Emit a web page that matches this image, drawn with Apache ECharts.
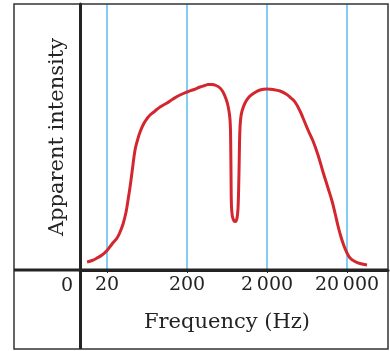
<!DOCTYPE html>
<html>
<head>
<meta charset="utf-8">
<script src="https://cdn.jsdelivr.net/npm/echarts@6/dist/echarts.min.js"></script>
<style>
html,body{margin:0;padding:0;background:#fff;}
#chart{width:390px;height:351px;}
</style>
</head>
<body>
<div id="chart"></div>
<script>
// Frequency (Hz) of each sampled point on the curve
const frequencies = [11.25, 12.99, 15.0, 17.32, 20, 23.1, 26.67, 29.08, 31.7, 34.56, 36.6, 38.77, 41.07, 44.77, 48.12, 51.7, 57.19, 63.25, 68.9, 79.6, 91.9, 112.5, 133.7, 163.5, 200, 244.7, 290.8, 335.8, 366, 410.7, 460.8, 517, 563.6, 614.6, 650.9, 679.7, 695.4, 703.4, 709.6, 717.8, 736.8, 773.7, 807.8, 843.4, 868.2, 885.7, 898.6, 911.6, 932.8, 974, 1062, 1191, 1376, 1635, 2000, 2377, 2908, 3456, 3991, 4477, 5170, 5636, 6508, 7516, 8680, 10024, 11576, 12988, 14159, 15435, 16827, 18346, 20000, 21804, 25179, 29075, 35566];
// Apparent intensity (arbitrary units)
const intensities = [8, 9.5, 12, 15, 19.5, 26, 32, 38, 46, 58, 70, 83, 98, 120, 130, 138, 146, 151.5, 155, 159, 163, 167, 171, 175, 178, 180.5, 183, 184.5, 185.5, 185.5, 184.5, 182, 178, 171, 164, 155, 145, 125, 95, 65, 54, 49, 48.5, 52, 62, 85, 110, 135, 150, 159, 167, 173, 177, 180, 181, 180.5, 179, 176, 172, 168, 159, 152, 140, 129, 115, 98, 82, 69, 57, 44, 33, 24, 17, 12, 8.5, 6.5, 5];
const tickValues = [20, 200, 2000, 20000];
const tickLabels = ['20', '200', '2\u2009000', '20\u2009000'];
const xAxisTitle = 'Frequency (Hz)';
const yAxisTitle = 'Apparent intensity';
const originLabel = '0';

const FONT = 'DejaVu Serif';
const INK = '#232323';
const GRIDBLUE = '#62c2ef';

const chart = echarts.init(document.getElementById('chart'), null, {renderer: 'canvas'});
const seriesData = frequencies.map((f, i) => [f, intensities[i]]);

chart.setOption({
  animation: false,
  backgroundColor: '#fff',
  grid: {left: 80, right: 2, top: 4, bottom: 81, containLabel: false},
  xAxis: {
    type: 'log',
    logBase: 10,
    min: 9.18,
    max: 65088,
    name: xAxisTitle,
    nameLocation: 'middle',
    nameGap: 42,
    nameTextStyle: {fontFamily: FONT, fontSize: 21, color: INK, padding: [0, 14, 0, 0]},
    axisLine: {show: true, lineStyle: {color: INK, width: 3}},
    axisTick: {show: true, customValues: tickValues, length: 3, inside: false, lineStyle: {color: INK, width: 1}},
    axisLabel: {
      show: true,
      customValues: tickValues,
      margin: 6,
      fontFamily: FONT, fontSize: 19, color: INK,
      formatter: function (v) {
        for (let i = 0; i < tickValues.length; i++) {
          if (Math.abs(Math.log10(v) - Math.log10(tickValues[i])) < 1e-6) return tickLabels[i];
        }
        return '';
      }
    },
    splitLine: {show: false},
    minorTick: {show: false}
  },
  yAxis: {
    type: 'value',
    min: 0,
    max: 266,
    name: yAxisTitle,
    nameLocation: 'middle',
    nameGap: 12,
    nameTextStyle: {fontFamily: FONT, fontSize: 21, color: INK},
    axisLine: {show: true, lineStyle: {color: INK, width: 3}},
    axisTick: {show: false},
    axisLabel: {show: false},
    splitLine: {show: false}
  },
  series: [{
    type: 'line',
    data: seriesData,
    smooth: 0.4,
    showSymbol: false,
    symbol: 'none',
    lineStyle: {color: '#d3262f', width: 3},
    z: 3,
    markLine: {
      silent: true,
      symbol: ['none', 'none'],
      label: {show: false},
      emphasis: {disabled: true},
      data: tickValues.map(v => ({xAxis: v, lineStyle: {color: GRIDBLUE, width: 1.6, type: 'solid', opacity: 1}})),
      z: 1
    }
  }],
  graphic: [
    {type: 'rect', shape: {x: 14, y: 4, width: 374, height: 345}, style: {fill: 'none', stroke: '#333', lineWidth: 1.5}, z: 10},
    {type: 'line', shape: {x1: 80.5, y1: 4, x2: 80.5, y2: 349}, style: {stroke: INK, lineWidth: 3}, z: 10},
    {type: 'line', shape: {x1: 14, y1: 270, x2: 388, y2: 270}, style: {stroke: INK, lineWidth: 3}, z: 10},
    {type: 'text', x: 73, y: 286, style: {text: originLabel, font: '19px "DejaVu Serif"', fill: INK, align: 'right', verticalAlign: 'middle'}, z: 10}
  ]
});
</script>
</body>
</html>
